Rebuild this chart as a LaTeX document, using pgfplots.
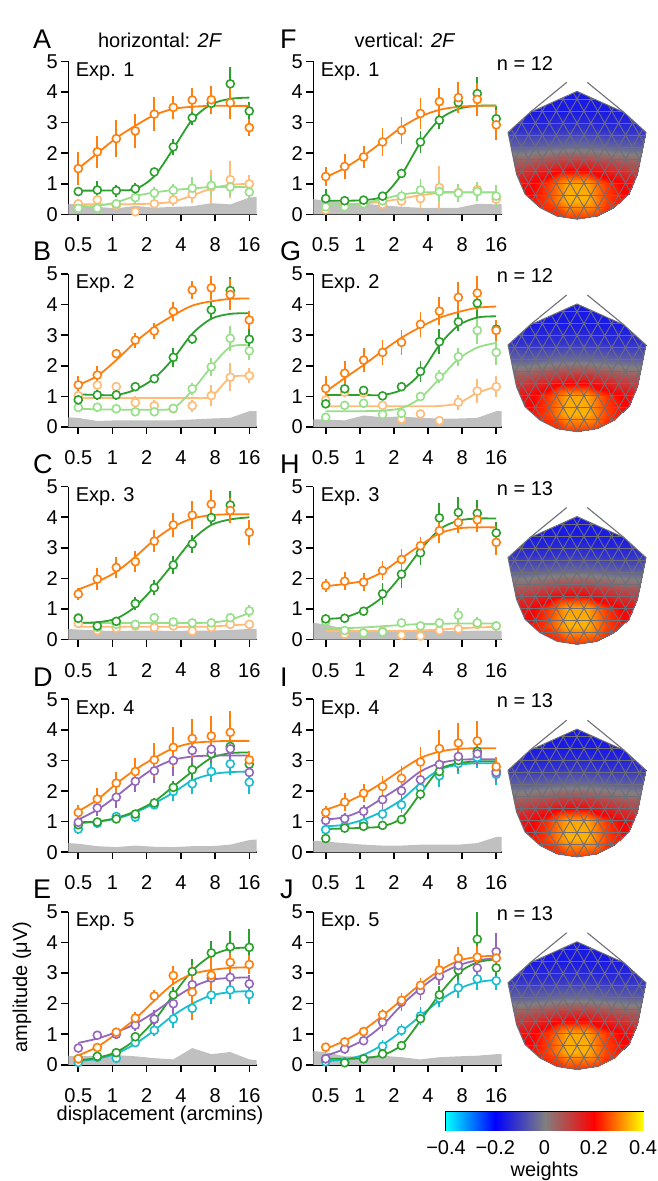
\documentclass[border=0pt]{standalone}
\usepackage{fontspec}
\setmainfont{Liberation Sans}
\usepackage{pgfplots}
\usepackage{pgfplotstable}
\pgfplotsset{compat=1.18}
\definecolor{cO}{RGB}{255,127,14}
\definecolor{cG}{RGB}{44,160,44}
\definecolor{cLG}{RGB}{152,223,138}
\definecolor{cLO}{RGB}{255,187,120}
\definecolor{cP}{RGB}{148,103,189}
\definecolor{cC}{RGB}{23,190,207}
\definecolor{cN}{RGB}{192,192,192}
\definecolor{cM}{RGB}{110,110,120}
\newcommand\bigf{\fontsize{20}{22}\selectfont}
\newcommand\letf{\fontsize{27}{29}\selectfont}

\pgfplotsset{
 panel/.style={width=188.4pt, height=153pt, scale only axis, ymin=0, ymax=5,
  axis lines=left, axis line style={-, line width=1.6pt},
  tick align=outside, major tick length=7pt, tick style={line width=1.6pt, black},
  ytick={0,1,2,3,4,5}, yticklabels={0,1,2,3,4,5},
  xtick={-1,0,1,2,3,4}, xticklabels={0.5,1,2,4,8,16},
  clip=false, ticklabel style={font=\bigf}, xticklabel style={yshift=-13pt}},
 col1/.style={xmin=-1.292, xmax=4.216},
 col2/.style={xmin=-1.364, xmax=4.16},
 fit/.style={smooth, line width=1.8pt, mark=none},
 pts/.style={only marks, mark=*, mark size=4pt, mark options={fill=white, line width=1.6pt},
  error bars/y dir=both, error bars/y explicit, error bars/error mark=none,
  error bars/error bar style={line width=1.8pt}},
}

% ---------- panel A ----------
\pgfplotstableread{
x o oe g ge lg lge lo loe
-1 1.5 0.55 0.75 0.15 0.2 0.1 0.35 0.12
-0.444 2.05 0.52 0.8 0.3 0.2 0.1 0.48 0.15
0.111 2.48 0.6 0.78 0.2 0.35 0.15 0.3 0.15
0.667 2.73 0.57 0.84 0.2 0.55 0.2 0.09 0.15
1.222 3.28 0.55 1.39 0.1 0.7 0.2 0.35 0.15
1.778 3.5 0.38 2.21 0.25 0.79 0.2 0.48 0.2
2.333 3.74 0.38 3.16 0.25 0.86 0.35 0.66 0.3
2.889 3.75 0.46 3.63 0.35 0.95 0.35 0.9 0.55
3.444 3.65 0.52 4.27 0.55 0.9 0.3 1.14 0.6
4 2.84 0.27 3.38 0.3 0.73 0.2 1.0 0.3
}\dataA
\pgfplotstableread{
x fo fg flg flo
-1 1.5 0.78 0.25 0.33
-0.444 2.0 0.78 0.28 0.33
0.111 2.5 0.79 0.4 0.33
0.667 2.9 0.83 0.6 0.34
1.222 3.25 1.25 0.72 0.36
1.778 3.45 2.15 0.8 0.42
2.333 3.52 3.1 0.85 0.62
2.889 3.55 3.6 0.9 0.85
3.444 3.55 3.78 0.9 0.97
4 3.55 3.82 0.9 1.0
}\fitA
\pgfplotstableread{
x n
-1.292 0.35
-1 0.33
-0.444 0.25
0.111 0.2
0.667 0.28
1.222 0.22
1.778 0.25
2.333 0.27
2.889 0.37
3.444 0.33
4 0.55
4.216 0.58
}\noiseA

% ---------- panel B ----------
\pgfplotstableread{
x o oe g ge lg lge lo loe
-1 1.38 0.3 0.89 0.15 0.64 0.15 1.03 0.15
-0.444 1.7 0.3 1.05 0.15 0.65 0.15 1.37 0.15
0.111 2.4 0.15 1.05 0.15 0.6 0.1 1.32 0.15
0.667 2.84 0.25 1.32 0.1 0.5 0.1 0.8 0.2
1.222 3.14 0.25 1.58 0.1 0.5 0.1 0.7 0.2
1.778 3.78 0.3 2.28 0.3 0.61 0.1 0.6 0.15
2.333 4.48 0.3 2.88 0.15 1.25 0.2 0.7 0.2
2.889 4.55 0.4 3.83 0.3 1.97 0.3 1.03 0.35
3.444 4.33 0.5 4.46 0.45 2.9 0.4 1.63 0.45
4 3.5 0.3 2.87 0.5 2.49 0.3 1.68 0.25
}\dataB
\pgfplotstableread{
x fo fg flg flo
-1 1.38 1.07 0.6 0.95
-0.444 1.67 1.05 0.58 0.95
0.111 2.19 1.05 0.57 0.95
0.667 2.78 1.22 0.57 0.95
1.222 3.27 1.6 0.57 0.95
1.778 3.65 2.24 0.62 0.95
2.333 3.97 3.05 1.2 0.95
2.889 4.11 3.54 1.97 1.0
3.444 4.19 3.7 2.62 1.62
4 4.2 3.72 2.67 1.67
}\fitB
\pgfplotstableread{
x n
-1.292 0.32
-1 0.3
-0.444 0.2
0.111 0.22
0.667 0.22
1.222 0.22
1.778 0.22
2.333 0.25
2.889 0.28
3.444 0.3
4 0.52
4.216 0.52
}\noiseB

% ---------- panel C ----------
\pgfplotstableread{
x o oe g ge lg lge lo loe
-1 1.49 0.2 0.7 0.1 0.72 0.1 0.53 0.1
-0.444 1.98 0.35 0.45 0.1 0.4 0.1 0.3 0.1
0.111 2.36 0.35 0.6 0.1 0.5 0.1 0.38 0.1
0.667 2.55 0.35 1.18 0.2 0.5 0.1 0.45 0.1
1.222 3.22 0.35 1.7 0.25 0.72 0.1 0.4 0.1
1.778 3.75 0.4 2.44 0.3 0.58 0.1 0.45 0.1
2.333 4.07 0.45 3.13 0.3 0.55 0.1 0.28 0.1
2.889 4.43 0.45 3.99 0.2 0.55 0.1 0.4 0.1
3.444 4.22 0.4 4.4 0.45 0.72 0.15 0.5 0.1
4 3.51 0.4 nan 0 0.94 0.2 0.5 0.1
}\dataC
\pgfplotstableread{
x fo fg flg flo
-1 1.64 0.55 0.55 0.42
-0.444 1.89 0.57 0.55 0.42
0.111 2.22 0.69 0.55 0.42
0.667 2.71 1.08 0.55 0.42
1.222 3.26 1.73 0.55 0.42
1.778 3.69 2.49 0.55 0.42
2.333 3.96 3.26 0.55 0.42
2.889 4.07 3.75 0.56 0.43
3.444 4.1 3.93 0.65 0.47
4 4.1 4.0 0.88 0.5
}\fitC
\pgfplotstableread{
x n
-1.292 0.35
-1 0.33
-0.444 0.3
0.111 0.28
0.667 0.3
1.222 0.3
1.778 0.28
2.333 0.3
2.889 0.3
3.444 0.32
4 0.35
4.216 0.35
}\noiseC

% ---------- panel F ----------
\pgfplotstableread{
x o oe g ge lg lge lo loe
-1 1.24 0.3 0.52 0.3 0.25 0.1 0.15 0.1
-0.444 1.57 0.4 0.45 0.1 0.25 0.1 0.33 0.1
0.111 1.88 0.35 0.47 0.1 0.35 0.1 0.4 0.1
0.667 2.37 0.45 0.6 0.1 0.45 0.15 0.33 0.15
1.222 2.75 0.45 1.34 0.15 0.6 0.2 0.44 0.2
1.778 3.3 0.5 2.37 0.35 0.8 0.35 0.52 0.35
2.333 3.69 0.45 3.08 0.3 0.75 0.3 0.88 0.7
2.889 3.82 0.5 3.66 0.35 0.7 0.3 0.72 0.25
3.444 3.76 0.55 3.95 0.55 0.75 0.3 0.81 0.25
4 2.93 0.5 3.13 0.4 0.6 0.35 0.5 0.2
}\dataF
\pgfplotstableread{
x fo fg flg flo
-1 1.22 0.45 0.3 0.32
-0.444 1.52 0.45 0.32 0.33
0.111 1.92 0.47 0.37 0.36
0.667 2.38 0.6 0.5 0.42
1.222 2.85 1.3 0.65 0.52
1.778 3.2 2.35 0.72 0.63
2.333 3.42 3.1 0.73 0.7
2.889 3.52 3.45 0.73 0.72
3.444 3.55 3.55 0.73 0.72
4 3.55 3.56 0.73 0.72
}\fitF
\pgfplotstableread{
x n
-1.364 0.5
-1 0.45
-0.444 0.38
0.111 0.35
0.667 0.3
1.222 0.25
1.778 0.22
2.333 0.22
2.889 0.22
3.444 0.35
4 0.33
4.16 0.35
}\noiseF

% ---------- panel G ----------
\pgfplotstableread{
x o oe g ge lg lge lo loe
-1 1.26 0.4 0.76 0.15 0.32 0.1 0.89 0.15
-0.444 1.76 0.4 1.25 0.15 0.71 0.15 1.14 0.15
0.111 2.19 0.4 1.2 0.15 0.78 0.15 1.12 0.15
0.667 2.44 0.4 1.02 0.1 0.41 0.1 0.71 0.15
1.222 2.77 0.4 1.32 0.15 0.45 0.1 0.26 0.15
1.778 3.36 0.4 1.82 0.35 1.0 0.15 0.43 0.15
2.333 3.79 0.45 2.79 0.4 1.65 0.2 0.21 0.15
2.889 4.24 0.5 3.44 0.3 2.3 0.3 0.81 0.25
3.444 4.38 0.55 4.05 0.5 3.16 0.45 1.18 0.4
4 3.16 0.35 3.2 0.3 2.44 0.4 1.32 0.35
}\dataG
\pgfplotstableread{
x fo fg flg flo
-1 1.16 1.05 0.52 0.68
-0.444 1.6 1.05 0.52 0.68
0.111 2.03 1.05 0.52 0.68
0.667 2.49 1.05 0.54 0.68
1.222 2.92 1.22 0.62 0.68
1.778 3.27 1.76 0.95 0.68
2.333 3.57 2.68 1.58 0.69
2.889 3.76 3.32 2.22 0.78
3.444 3.9 3.58 2.6 1.12
4 3.94 3.62 2.75 1.32
}\fitG
\pgfplotstableread{
x n
-1.364 0.25
-1 0.25
-0.444 0.22
0.111 0.38
0.667 0.32
1.222 0.35
1.778 0.3
2.333 0.28
2.889 0.28
3.444 0.3
4 0.52
4.16 0.52
}\noiseG

% ---------- panel H ----------
\pgfplotstableread{
x o oe g ge lg lge lo loe
-1 1.77 0.2 0.68 0.1 0.6 0.1 0.62 0.1
-0.444 1.91 0.3 0.7 0.1 0.3 0.1 0.18 0.1
0.111 1.88 0.3 0.93 0.1 0.22 0.1 0.22 0.1
0.667 2.26 0.3 1.5 0.35 0.25 0.1 0.28 0.1
1.222 2.62 0.35 2.14 0.45 0.55 0.1 0.15 0.1
1.778 3.07 0.3 2.84 0.4 0.45 0.1 0.12 0.1
2.333 3.56 0.4 3.98 0.5 0.55 0.15 0.3 0.1
2.889 3.83 0.35 4.16 0.5 0.8 0.25 0.35 0.15
3.444 3.92 0.4 4.13 0.45 0.55 0.2 0.5 0.15
4 3.18 0.4 3.49 0.35 0.45 0.15 0.45 0.1
}\dataH
\pgfplotstableread{
x fo fg flg flo
-1 1.75 0.68 0.38 0.28
-0.444 1.82 0.73 0.38 0.28
0.111 1.93 0.97 0.4 0.28
0.667 2.22 1.4 0.44 0.28
1.222 2.66 2.11 0.48 0.29
1.778 3.09 2.93 0.51 0.3
2.333 3.47 3.6 0.52 0.33
2.889 3.64 3.89 0.53 0.37
3.444 3.67 3.96 0.53 0.4
4 3.67 3.96 0.53 0.42
}\fitH
\pgfplotstableread{
x n
-1.364 0.55
-1 0.5
-0.444 0.35
0.111 0.3
0.667 0.28
1.222 0.28
1.778 0.28
2.333 0.28
2.889 0.28
3.444 0.3
4 0.3
4.16 0.3
}\noiseH

% ---------- panel D ----------
\pgfplotstableread{
x o oe p pe g ge c ce
-1 1.3 0.25 0.98 0.2 0.9 0.1 0.76 0.15
-0.444 1.74 0.35 1.45 0.25 0.99 0.1 0.95 0.15
0.111 2.26 0.35 1.8 0.35 1.09 0.1 1.17 0.15
0.667 2.64 0.45 2.32 0.35 1.25 0.1 1.15 0.15
1.222 3.02 0.55 2.66 0.4 1.61 0.15 1.55 0.15
1.778 3.43 0.65 3.0 0.5 2.12 0.2 1.99 0.3
2.333 3.72 0.65 3.33 0.4 2.7 0.3 2.24 0.35
2.889 3.8 0.65 3.37 0.4 3.22 0.3 2.64 0.35
3.444 3.92 0.7 3.38 0.4 3.46 0.3 2.89 0.35
4 3.02 0.3 2.61 0.3 2.88 0.3 2.29 0.4
}\dataD
\pgfplotstableread{
x fo fp fg fc
-1 1.34 1.07 0.98 0.95
-0.444 1.72 1.39 1.01 1.0
0.111 2.24 1.83 1.12 1.1
0.667 2.7 2.32 1.34 1.3
1.222 3.08 2.75 1.66 1.6
1.778 3.4 3.02 2.15 1.95
2.333 3.57 3.13 2.64 2.35
2.889 3.62 3.16 3.08 2.55
3.444 3.64 3.16 3.24 2.62
4 3.64 3.16 3.26 2.64
}\fitD
\pgfplotstableread{
x n
-1.292 0.3
-1 0.28
-0.444 0.2
0.111 0.17
0.667 0.22
1.222 0.18
1.778 0.17
2.333 0.2
2.889 0.2
3.444 0.25
4 0.4
4.216 0.42
}\noiseD

% ---------- panel E ----------
\pgfplotstableread{
x o oe p pe g ge c ce
-1 0.2 0.1 0.55 0.1 0.2 0.1 0.08 0.1
-0.444 0.57 0.15 0.97 0.15 0.28 0.1 0.25 0.1
0.111 1.07 0.15 1.0 0.15 0.4 0.1 0.22 0.1
0.667 1.53 0.2 1.3 0.2 0.92 0.1 0.73 0.15
1.222 2.25 0.2 1.5 0.3 1.49 0.15 1.13 0.2
1.778 2.92 0.3 2.0 0.3 2.29 0.25 1.5 0.3
2.333 2.38 0.9 2.62 0.3 3.05 0.4 1.85 0.3
2.889 2.93 0.7 2.84 0.3 3.66 0.4 2.28 0.3
3.444 3.35 0.3 2.86 0.3 3.86 0.5 2.45 0.3
4 3.28 0.3 2.65 0.3 3.84 0.6 2.3 0.3
}\dataE
\pgfplotstableread{
x fo fp fg fc
-1 0.31 0.72 0.15 0.12
-0.444 0.59 0.86 0.23 0.2
0.111 1.02 1.07 0.42 0.37
0.667 1.51 1.34 0.82 0.69
1.222 2.1 1.72 1.45 1.13
1.778 2.65 2.16 2.29 1.62
2.333 2.97 2.54 3.08 2.0
2.889 3.1 2.78 3.57 2.27
3.444 3.17 2.84 3.79 2.38
4 3.19 2.86 3.84 2.41
}\fitE
\pgfplotstableread{
x n
-1.292 0.3
-1 0.28
-0.444 0.3
0.111 0.32
0.667 0.28
1.222 0.22
1.778 0.18
2.333 0.55
2.889 0.35
3.444 0.42
4 0.18
4.216 0.15
}\noiseE

% ---------- panel I ----------
\pgfplotstableread{
x o oe p pe g ge c ce
-1 1.3 0.2 1.04 0.15 0.45 0.1 0.74 0.15
-0.444 1.64 0.3 1.1 0.2 0.79 0.1 0.85 0.15
0.111 1.93 0.3 1.34 0.2 0.85 0.1 0.95 0.2
0.667 2.15 0.35 1.72 0.3 0.88 0.1 1.25 0.2
1.222 2.42 0.4 2.01 0.3 1.07 0.1 1.55 0.25
1.778 2.95 0.5 2.37 0.35 1.9 0.2 2.1 0.3
2.333 3.39 0.6 2.87 0.35 2.64 0.3 2.5 0.35
2.889 3.57 0.65 3.13 0.4 3.0 0.35 2.9 0.35
3.444 3.64 0.65 3.22 0.4 3.3 0.35 3.1 0.35
4 2.8 0.3 2.61 0.3 2.65 0.3 2.55 0.35
}\dataI
\pgfplotstableread{
x fo fp fg fc
-1 1.39 1.07 0.76 0.85
-0.444 1.61 1.15 0.78 0.9
0.111 1.91 1.39 0.8 1.07
0.667 2.28 1.77 0.85 1.34
1.222 2.7 2.17 1.12 1.72
1.778 3.08 2.64 1.93 2.26
2.333 3.29 2.91 2.7 2.7
2.889 3.38 3.02 2.91 2.86
3.444 3.4 3.04 2.97 2.91
4 3.4 3.04 2.97 2.91
}\fitI
\pgfplotstableread{
x n
-1.364 0.38
-1 0.35
-0.444 0.3
0.111 0.25
0.667 0.22
1.222 0.22
1.778 0.25
2.333 0.25
2.889 0.25
3.444 0.3
4 0.5
4.16 0.5
}\noiseI

% ---------- panel J ----------
\pgfplotstableread{
x o oe p pe g ge c ce
-1 0.58 0.15 0.2 0.1 0.2 0.1 0.1 0.1
-0.444 0.75 0.15 0.52 0.15 0.07 0.1 0.1 0.1
0.111 1.09 0.15 0.79 0.15 0.2 0.1 0.2 0.1
0.667 1.64 0.2 1.4 0.3 0.36 0.1 0.61 0.2
1.222 2.11 0.25 2.05 0.3 0.63 0.1 1.13 0.2
1.778 2.6 0.25 2.43 0.3 1.51 0.1 1.6 0.3
2.333 3.1 0.35 2.9 0.3 2.29 0.3 2.18 0.3
2.889 3.49 0.35 3.25 0.3 3.09 0.3 2.52 0.35
3.444 3.52 0.35 3.17 0.35 4.11 0.9 2.81 0.35
4 3.49 0.3 3.7 0.6 3.17 0.4 2.75 0.3
}\dataJ
\pgfplotstableread{
x fo fp fg fc
-1 0.52 0.3 0.2 0.12
-0.444 0.79 0.52 0.2 0.18
0.111 1.14 0.82 0.22 0.33
0.667 1.61 1.3 0.32 0.66
1.222 2.12 1.95 0.65 1.1
1.778 2.64 2.5 1.45 1.6
2.333 3.08 2.95 2.3 2.1
2.889 3.4 3.25 3.0 2.48
3.444 3.53 3.42 3.35 2.7
4 3.57 3.48 3.45 2.78
}\fitJ
\pgfplotstableread{
x n
-1.364 0.45
-1 0.42
-0.444 0.28
0.111 0.28
0.667 0.3
1.222 0.25
1.778 0.18
2.333 0.25
2.889 0.28
3.444 0.3
4 0.35
4.16 0.35
}\noiseJ

% ---------- scalp map weights (grid, x varies fastest) ----------
\pgfplotstableread{
x y v
-70 0 0.2
-50 0 0.2
-30 0 0.21
-10 0 0.24
10 0 0.24
30 0 0.21
50 0 0.2
70 0 0.2
-70 18 0.18
-50 18 0.2
-30 18 0.25
-10 18 0.34
10 18 0.34
30 18 0.25
50 18 0.2
70 18 0.18
-70 36 0.15
-50 36 0.18
-30 36 0.24
-10 36 0.33
10 36 0.33
30 36 0.24
50 36 0.18
70 36 0.15
-70 54 0.07
-50 54 0.08
-30 54 0.11
-10 54 0.14
10 54 0.14
30 54 0.11
50 54 0.08
70 54 0.07
-70 72 -0.05
-50 72 -0.05
-30 72 -0.04
-10 72 -0.03
10 72 -0.03
30 72 -0.04
50 72 -0.05
70 72 -0.05
-70 90 -0.12
-50 90 -0.13
-30 90 -0.13
-10 90 -0.12
10 90 -0.12
30 90 -0.13
50 90 -0.13
70 90 -0.12
-70 108 -0.14
-50 108 -0.16
-30 108 -0.16
-10 108 -0.16
10 108 -0.16
30 108 -0.16
50 108 -0.16
70 108 -0.14
-70 130 -0.14
-50 130 -0.15
-30 130 -0.16
-10 130 -0.16
10 130 -0.16
30 130 -0.16
50 130 -0.15
70 130 -0.14
}\headdata

\pgfplotstableread{
x y v
-0.4 0 -0.4
-0.2 0 -0.2
0 0 0
0.2 0 0.2
0.4 0 0.4
-0.4 1 -0.4
-0.2 1 -0.2
0 1 0
0.2 1 0.2
0.4 1 0.4
}\cbdata

\pgfplotsset{
 wmap/.style={colormap={weights}{rgb255=(0,255,255) rgb255=(0,0,255) rgb255=(128,128,128) rgb255=(255,0,0) rgb255=(255,255,0)},
  point meta min=-0.4, point meta max=0.4},
}

\newcommand\panelOne[7]{%
\begin{axis}[panel, #3, at={(#1pt,#2pt)}, anchor=south west]
\addplot[fill=cN, draw=none] table[x=x,y=n] {#6} \closedcycle;
\addplot[fit, cLO] table[x=x,y=flo] {#5};
\addplot[pts, cLO] table[x=x,y=lo,y error=loe] {#4};
\addplot[fit, cLG] table[x=x,y=flg] {#5};
\addplot[pts, cLG] table[x=x,y=lg,y error=lge] {#4};
\addplot[fit, cG] table[x=x,y=fg] {#5};
\addplot[pts, cG] table[x=x,y=g,y error=ge] {#4};
\addplot[fit, cO] table[x=x,y=fo] {#5};
\addplot[pts, cO] table[x=x,y=o,y error=oe] {#4};
\node[anchor=west, font=\bigf, xshift=4pt] at (rel axis cs:0,0.935) {Exp. #7};
\end{axis}}

\newcommand\panelTwo[7]{%
\begin{axis}[panel, #3, at={(#1pt,#2pt)}, anchor=south west]
\addplot[fill=cN, draw=none] table[x=x,y=n] {#6} \closedcycle;
\addplot[fit, cC] table[x=x,y=fc] {#5};
\addplot[pts, cC] table[x=x,y=c,y error=ce] {#4};
\addplot[fit, cG] table[x=x,y=fg] {#5};
\addplot[pts, cG] table[x=x,y=g,y error=ge] {#4};
\addplot[fit, cP] table[x=x,y=fp] {#5};
\addplot[pts, cP] table[x=x,y=p,y error=pe] {#4};
\addplot[fit, cO] table[x=x,y=fo] {#5};
\addplot[pts, cO] table[x=x,y=o,y error=oe] {#4};
\node[anchor=west, font=\bigf, xshift=4pt] at (rel axis cs:0,0.935) {Exp. #7};
\end{axis}}

\newcommand\headpath{(0pt,127.7pt) -- (-47pt,106.7pt) -- (-69pt,86.7pt) -- (-60.5pt,45pt) -- (-52pt,25pt) -- (-37pt,11.5pt) -- (-20pt,3pt) -- (0pt,0pt) -- (20pt,3pt) -- (37pt,11.5pt) -- (52pt,25pt) -- (60.5pt,45pt) -- (69pt,86.7pt) -- (47pt,106.7pt) -- cycle}

\newcommand\head[2]{%
\begin{scope}[shift={(577pt,#1pt)}]
\begin{scope}
\clip \headpath;
\begin{axis}[wmap, at={(-70pt,0pt)}, anchor=south west, hide axis, scale only axis,
  width=140pt, height=130pt, xmin=-70, xmax=70, ymin=0, ymax=130]
\addplot[surf, shader=interp, mesh/cols=8, point meta=explicit] table[x=x,y=y,meta=v] {\headdata};
\end{axis}
\begin{scope}[cM, line width=0.9pt]
\foreach \c in {-221.76,-207.9,...,222} {\draw (\c pt,0pt) -- ++(80pt,138.56pt); \draw (\c pt,0pt) -- ++(-80pt,138.56pt);}
\foreach \h in {12,24,...,132} {\draw (-75pt,\h pt) -- (75pt,\h pt);}
\end{scope}
\end{scope}
\draw[cM, line width=1pt] \headpath;
\draw[cM, line width=1.1pt] (-47pt,106.7pt) -- (-10.3pt,136.7pt);
\draw[cM, line width=1.1pt] (47pt,106.7pt) -- (10.3pt,136.7pt);
\node[font=\bigf] at (-52pt,156pt) {n = #2};
\end{scope}}

\begin{document}
\begin{tikzpicture}[x=1pt,y=1pt]
\useasboundingbox (0pt,0pt) rectangle (658pt,1181pt);

\panelOne{68.3}{966.5}{col1}{\dataA}{\fitA}{\noiseA}{1}
\panelOne{68.3}{753.9}{col1}{\dataB}{\fitB}{\noiseB}{2}
\panelOne{68.3}{541.3}{col1}{\dataC}{\fitC}{\noiseC}{3}
\panelTwo{68.3}{328.7}{col1}{\dataD}{\fitD}{\noiseD}{4}
\panelTwo{68.3}{116.1}{col1}{\dataE}{\fitE}{\noiseE}{5}

\panelOne{313.3}{966.5}{col2}{\dataF}{\fitF}{\noiseF}{1}
\panelOne{313.3}{753.9}{col2}{\dataG}{\fitG}{\noiseG}{2}
\panelOne{313.3}{541.3}{col2}{\dataH}{\fitH}{\noiseH}{3}
\panelTwo{313.3}{328.7}{col2}{\dataI}{\fitI}{\noiseI}{4}
\panelTwo{313.3}{116.1}{col2}{\dataJ}{\fitJ}{\noiseJ}{5}

\head{961.9}{12}
\head{749.3}{12}
\head{536.7}{13}
\head{324.1}{13}
\head{111.5}{13}

% colorbar
\begin{axis}[wmap, at={(446pt,50.3pt)}, anchor=south west, scale only axis, width=197pt, height=19pt,
  xmin=-0.4, xmax=0.4, ymin=0, ymax=1, ytick=\empty,
  xtick={-0.4,-0.2,0,0.2,0.4}, xticklabels={−0.4,−0.2,0,0.2,0.4},
  tick align=inside, major tick length=4pt, tick style={line width=1pt, black},
  axis line style={line width=1.4pt}, ticklabel style={font=\bigf}, xticklabel style={yshift=-6pt}]
\addplot[surf, shader=interp, mesh/cols=5, point meta=explicit] table[x=x,y=y,meta=v] {\cbdata};
\end{axis}
\node[font=\bigf, anchor=base] at (544.5pt,4.5pt) {weights};

% panel letters
\foreach \L/\Y in {A/1142,B/929.4,C/716.8,D/504.2,E/291.6} {\node[font=\letf, anchor=west, inner sep=0pt] at (33pt,\Y pt) {\L};}
\foreach \L/\Y in {F/1142,G/929.4,H/716.8,I/504.2,J/291.6} {\node[font=\letf, anchor=west, inner sep=0pt] at (280pt,\Y pt) {\L};}

% column titles
\node[font=\bigf] at (160pt,1141pt) {horizontal: \textit{2F}};
\node[font=\bigf] at (405pt,1141pt) {vertical: \textit{2F}};

% axis labels
\node[font=\bigf, rotate=90] at (22pt,194pt) {amplitude (μV)};
\node[font=\bigf] at (160pt,66pt) {displacement (arcmins)};
\end{tikzpicture}
\end{document}
